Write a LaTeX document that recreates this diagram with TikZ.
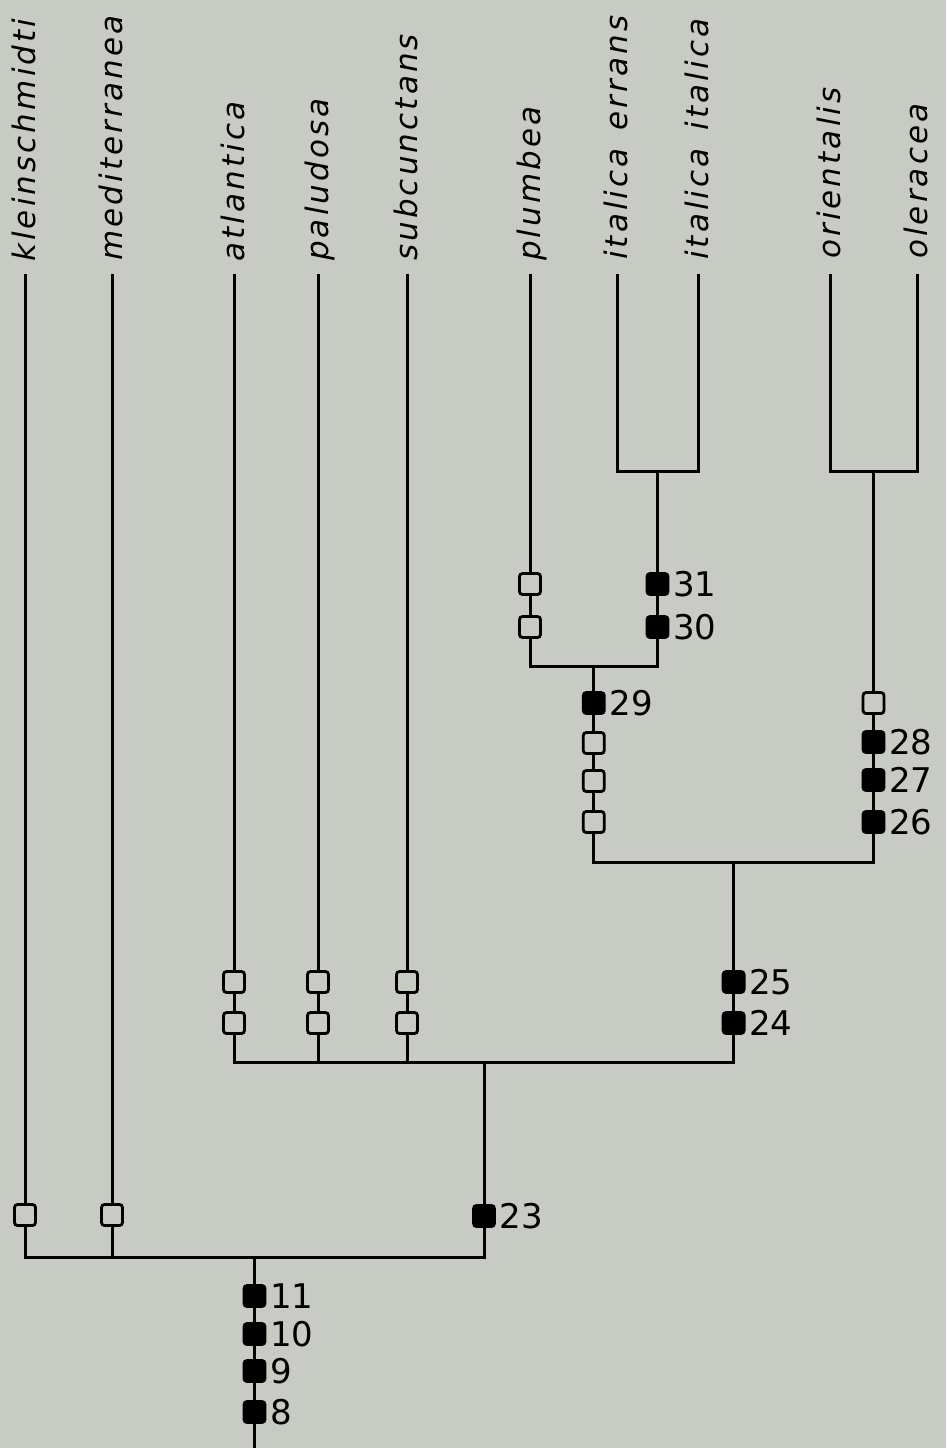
\documentclass[tikz,border=0pt]{standalone}
\usepackage{fontspec}
\usetikzlibrary{positioning}
\newfontfamily\labfont[LetterSpace=10]{DejaVu Sans}
\newfontfamily\numfont{DejaVu Sans}
\definecolor{paper}{RGB}{200,202,196}
\begin{document}
\begin{tikzpicture}[x=1pt,y=-1pt,
  branch/.style={line width=3pt,line join=miter},
  lab/.style={rotate=90,anchor=base west,inner sep=0pt,font=\labfont\itshape\fontsize{31}{31}\selectfont},
  openbox/.style={draw,line width=2.8pt,fill=paper,rounded corners=3pt,minimum width=21pt,minimum height=21pt,inner sep=0pt,outer sep=0pt},
  fullbox/.style={draw,line width=2.8pt,fill=black,rounded corners=3pt,minimum width=21pt,minimum height=21pt,inner sep=0pt,outer sep=0pt},
  num/.style={anchor=west,inner sep=0pt,font=\numfont\fontsize{34}{34}\selectfont}]
\fill[paper] (0,0) rectangle (946,1448);
\useasboundingbox (0,0) rectangle (946,1448);
% leaf tops
\coordinate (tk) at (25,274);
\coordinate (tm) at (112,274);
\coordinate (ta) at (234,274);
\coordinate (tp) at (318,274);
\coordinate (ts) at (407,274);
\coordinate (tpl) at (530,274);
\coordinate (tie) at (617,274);
\coordinate (tii) at (698,274);
\coordinate (tor) at (830,274);
\coordinate (tol) at (917,274);
% junctions
\coordinate (j1) at (657.5,471);
\coordinate (j2) at (873.5,471);
\coordinate (j3) at (593.75,666);
\coordinate (j4) at (733.6,862);
\coordinate (j5) at (484,1062);
\coordinate (j6) at (254.5,1257);
\coordinate (root) at (254.5,1448);
% labels
\node[lab] (Lk) at (35,262) {kleinschmidti};
\node[lab] (Lm) at (122,261) {mediterranea};
\node[lab] (La) at (244,262) {atlantica};
\node[lab] (Lp) at (328,261) {paludosa};
\node[lab] (Ls) at (417,261) {subcunctans};
\node[lab] (Lpl) at (540,261) {plumbea};
\node[lab] (Lie) at (627,260) {italica\hspace{5pt} errans};
\node[lab] (Lii) at (708,260) {italica\hspace{5pt} italica};
\node[lab] (Lor) at (840,259) {orientalis};
\node[lab] (Lol) at (927,259) {oleracea};
% branches
\draw[branch] (tie) |- (j1) -| (tii);
\draw[branch] (tor) |- (j2) -| (tol);
\draw[branch] (tpl) |- (j3) -| (j1);
\draw[branch] (j3) |- (j4) -| (j2);
\draw[branch] (ta) |- (j5) -| (j4);
\draw[branch] (tp) -- (tp |- j5);
\draw[branch] (ts) -- (ts |- j5);
\draw[branch] (tk) |- (j6) -| (j5);
\draw[branch] (tm) -- (tm |- j6);
\draw[branch] (j6) -- (root);
% open boxes
\node[openbox] (ok) at (25,1215) {};
\node[openbox] (om) at (112,1215) {};
\node[openbox] (oa1) at (234,982) {};
\node[openbox] (oa2) at (234,1023) {};
\node[openbox] (op1) at (318,982) {};
\node[openbox] (op2) at (318,1023) {};
\node[openbox] (os1) at (407,982) {};
\node[openbox] (os2) at (407,1023) {};
\node[openbox] (opl1) at (530,584) {};
\node[openbox] (opl2) at (530,627) {};
\node[openbox] (oj1) at (593.75,743) {};
\node[openbox] (oj2) at (593.75,781) {};
\node[openbox] (oj3) at (593.75,822) {};
\node[openbox] (oor) at (873.5,703) {};
% filled boxes with numbers
\node[fullbox] (b31) at (657.5,584) {};
\node[fullbox] (b30) at (657.5,627) {};
\node[fullbox] (b29) at (593.75,703) {};
\node[fullbox] (b28) at (873.5,742) {};
\node[fullbox] (b27) at (873.5,780) {};
\node[fullbox] (b26) at (873.5,822) {};
\node[fullbox] (b25) at (733.6,982) {};
\node[fullbox] (b24) at (733.6,1023) {};
\node[fullbox] (b23) at (484,1216) {};
\node[fullbox] (b11) at (254.5,1296) {};
\node[fullbox] (b10) at (254.5,1334) {};
\node[fullbox] (b9) at (254.5,1371) {};
\node[fullbox] (b8) at (254.5,1412) {};
\node[num,right=5pt of b31] (n31) {31};
\node[num,right=5pt of b30] (n30) {30};
\node[num,right=5pt of b29] (n29) {29};
\node[num,right=5pt of b28] (n28) {28};
\node[num,right=5pt of b27] (n27) {27};
\node[num,right=5pt of b26] (n26) {26};
\node[num,right=5pt of b25] (n25) {25};
\node[num,right=5pt of b24] (n24) {24};
\node[num,right=5pt of b23] (n23) {23};
\node[num,right=5pt of b11] (n11) {11};
\node[num,right=5pt of b10] (n10) {10};
\node[num,right=5pt of b9] (n9) {9};
\node[num,right=5pt of b8] (n8) {8};
\end{tikzpicture}
\end{document}
